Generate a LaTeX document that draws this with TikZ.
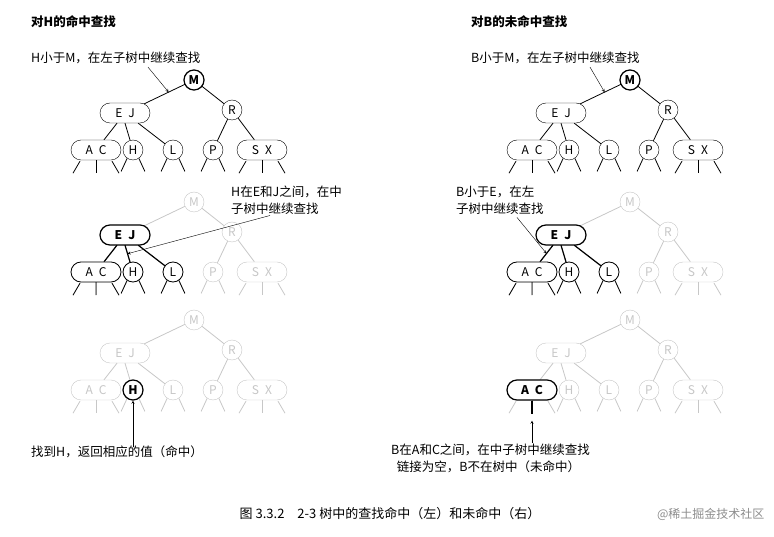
\documentclass[tikz,border=0pt]{standalone}
\usepackage{fontspec}
\setmainfont{Liberation Serif}
\newfontfamily\cjk{Noto Sans CJK SC}
\usetikzlibrary{shapes.misc, arrows, positioning, calc}

\tikzset{
    one/.style={circle, draw, fill=white, inner sep=0pt, minimum size=20pt, font=\cjk\fontsize{12}{14}\selectfont},
    two/.style={rounded rectangle, draw, fill=white, inner sep=0pt, minimum width=50pt, minimum height=20pt, font=\cjk\fontsize{12}{14}\selectfont},
    hl/.style={very thick, draw=black, text=black, font=\cjk\fontsize{12}{14}\selectfont\bfseries},
    dark/.style={thick, draw=black, text=black},
    faded/.style={black!22},
    note/.style={font=\cjk\fontsize{12.5}{17}\selectfont, align=left, inner sep=1pt},
    arrow/.style={->, >=stealth}
}

% one 2-3 tree: x, y, prefix, colour
\newcommand\twothree[4]{%
  \begin{scope}[shift={(#1,#2)}, #4]
    \node[one] (#3M) at (0,0) {M};
    \node[two] (#3EJ) at (-69,33) {E\enspace J};
    \node[one] (#3R) at (38,30) {R};
    \node[two] (#3AC) at (-98,70) {A\enspace C};
    \node[one] (#3H) at (-61,70) {H};
    \node[one] (#3L) at (-21,70) {L};
    \node[one] (#3P) at (19,70) {P};
    \node[two] (#3SX) at (68,70) {S\enspace X};
    \draw[thick] (#3M) -- (#3EJ);
    \draw[thick] (#3M) -- (#3R);
    \draw[thick] (#3EJ) -- (#3AC);
    \draw[thick] (#3EJ.south) -- (#3H);
    \draw[thick] (#3EJ) -- (#3L);
    \draw[thick] (#3R) -- (#3P);
    \draw[thick] (#3R) -- (#3SX);
    \foreach \n in {H,L,P} {
      \draw[thick] (#3\n.-125) -- ++(-6,13);
      \draw[thick] (#3\n.-55) -- ++(6,13);
    }
    \foreach \n in {AC,SX} {
      \draw[thick] ($(#3\n.south)+(-16,1)$) -- ++(-7,12);
      \draw[thick] (#3\n.south) -- ++(0,13);
      \draw[thick] ($(#3\n.south)+(16,1)$) -- ++(7,12);
    }
  \end{scope}}

\begin{document}
\begin{tikzpicture}[x=1pt, y=-1pt]
\useasboundingbox (0,0) rectangle (774,537);

% titles
\node[note, font=\cjk\fontsize{12.5}{15}\selectfont\bfseries, anchor=west] (ttlH) at (30,22) {对H的命中查找};
\node[note, font=\cjk\fontsize{12.5}{15}\selectfont\bfseries, anchor=west] (ttlB) at (470,22) {对B的未命中查找};

% row 1
\twothree{194}{80}{a}{black}
\node[one, hl] at (aM) {M};
\twothree{630}{80}{b}{black}
\node[one, hl] at (bM) {M};

% row 2
\twothree{194}{202}{c}{faded}
\draw[very thick] (cEJ) -- (cAC) (cEJ.south) -- (cH) (cEJ) -- (cL);
\node[two, hl] at (cEJ) {E\enspace J};
\node[two, dark] at (cAC) {A\enspace C};
\node[one, dark] at (cH) {H};
\node[one, dark] at (cL) {L};
\foreach \n in {H,L} {
  \draw[thick] (c\n.-125) -- ++(-6,13);
  \draw[thick] (c\n.-55) -- ++(6,13);
}
\draw[thick] ($(cAC.south)+(-16,1)$) -- ++(-7,12) (cAC.south) -- ++(0,13) ($(cAC.south)+(16,1)$) -- ++(7,12);

\twothree{630}{202}{d}{faded}
\draw[very thick] (dEJ) -- (dAC) (dEJ.south) -- (dH) (dEJ) -- (dL);
\node[two, hl] at (dEJ) {E\enspace J};
\node[two, dark] at (dAC) {A\enspace C};
\node[one, dark] at (dH) {H};
\node[one, dark] at (dL) {L};
\foreach \n in {H,L} {
  \draw[thick] (d\n.-125) -- ++(-6,13);
  \draw[thick] (d\n.-55) -- ++(6,13);
}
\draw[thick] ($(dAC.south)+(-16,1)$) -- ++(-7,12) (dAC.south) -- ++(0,13) ($(dAC.south)+(16,1)$) -- ++(7,12);

% row 3
\twothree{194}{320}{e}{faded}
\node[one, hl] (eHh) at (eH) {H};
\twothree{630}{320}{f}{faded}
\node[two, hl] (fACh) at (fAC) {A\enspace C};
\draw[very thick] (fACh.south) -- ++(0,13);

% notes and arrows
\node[note, anchor=west] (noteA) at (30,58) {H小于M，在左子树中继续查找};
\path (aM) -- (aEJ) coordinate[pos=0.4] (aMid);
\draw[arrow] ($(noteA.south west)+(118,2)$) -- (aMid);

\node[note, anchor=west] (noteB) at (470,58) {B小于M，在左子树中继续查找};
\path (bM) -- (bEJ) coordinate[pos=0.4] (bMid);
\draw[arrow] ($(noteB.south west)+(120,2)$) -- (bMid);

\node[note, anchor=west] (noteC) at (230,200) {H在E和J之间，在中\\子树中继续查找};
\path (cEJ.south) -- (cH) coordinate[pos=0.5] (cMid);
\draw[arrow] ($(noteC.south west)+(40,0)$) -- (cMid);

\node[note, anchor=west] (noteD) at (455,200) {B小于E，在左\\子树中继续查找};
\path (dEJ) -- (dAC) coordinate[pos=0.5] (dMid);
\draw[arrow] ($(noteD.south west)+(62,2)$) -- (dMid);

\node[note, anchor=west] (noteE) at (30,452) {找到H，返回相应的值（命中）};
\coordinate (eFoot) at ($(eHh.south)+(0,46)$);
\draw[arrow] (eFoot) -- (eHh);

\node[note, anchor=west] (noteF) at (390,458) {B在A和C之间，在中子树中继续查找\\\ \ 链接为空，B不在树中（未命中）};
\coordinate (fFoot) at ($(fACh.south)+(0,42)$);
\coordinate (fTip) at ($(fACh.south)+(0,20)$);
\draw[arrow] (fFoot) -- (fTip);

% caption
\node[font=\cjk\fontsize{13}{15}\selectfont] (cap) at (390,514) {图 3.3.2\quad 2-3 树中的查找命中（左）和未命中（右）};
\node[font=\cjk\fontsize{12}{14}\selectfont, black!45, anchor=east] (mark) at (768,514) {@稀土掘金技术社区};
\end{tikzpicture}
\end{document}
